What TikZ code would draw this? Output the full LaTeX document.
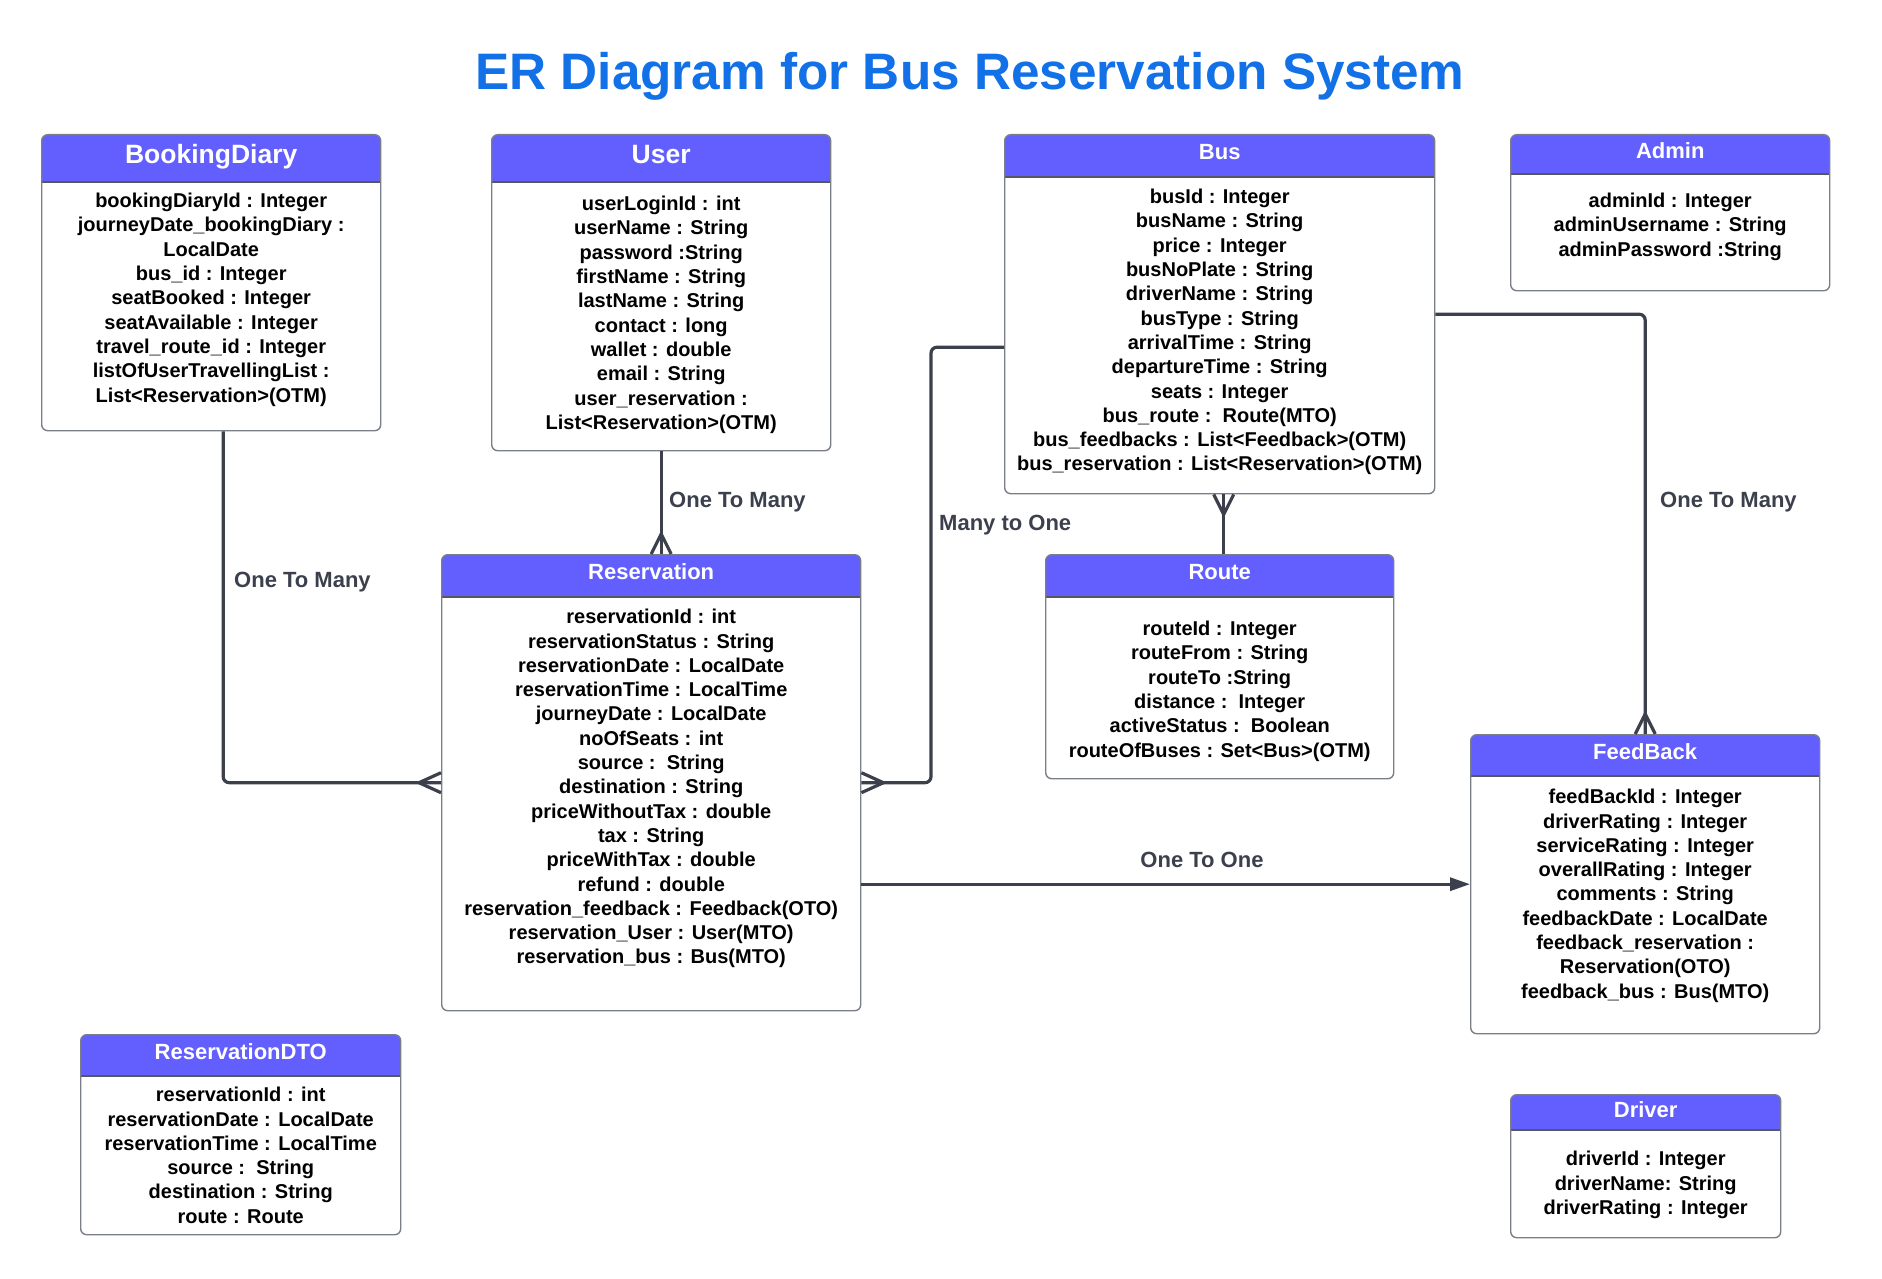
\documentclass[tikz,border=0pt]{standalone}
\usepackage{fontspec}
\setmainfont{Liberation Sans}
\usepackage{xcolor}
\usepackage{tikz}
\usetikzlibrary{arrows.meta, positioning}
\definecolor{headcol}{RGB}{99,95,255}
\definecolor{titlecol}{RGB}{18,113,230}
\definecolor{linkcol}{RGB}{59,64,76}
\definecolor{edgecol}{RGB}{122,126,136}

\begin{document}
\begin{tikzpicture}[
  x=1pt, y=-1pt,
  entity/.style={draw=edgecol, line width=1.4pt, fill=white, rounded corners=6pt,
                 anchor=north west, inner sep=0pt,
                 path picture={\fill[headcol, sharp corners]
                   (path picture bounding box.north west)
                   rectangle ([yshift=-#1]path picture bounding box.north east);
                   \draw[edgecol!70!black, line width=1.6pt, sharp corners]
                   ([yshift=-#1]path picture bounding box.north west)
                   -- ([yshift=-#1]path picture bounding box.north east);}},
  head/.style={text=white, anchor=base, inner sep=0pt,
               font=\fontsize{22}{26}\selectfont\bfseries},
  bighead/.style={head, font=\fontsize{26.5}{30}\selectfont\bfseries},
  attr/.style={anchor=north, align=center, inner sep=0pt,
               font=\fontsize{20}{24.3}\selectfont\bfseries},
  link/.style={draw=linkcol, line width=3.2pt, rounded corners=6pt},
  crow/.style={draw=linkcol, line width=3.2pt, line join=miter},
  lbl/.style={text=linkcol, inner sep=0pt, font=\fontsize{22}{26}\selectfont\bfseries}
]
  \fill[white] (0,0) rectangle (1882,1279);
  \useasboundingbox (0,0) rectangle (1882,1279);

  \node[anchor=base, text=titlecol, font=\fontsize{51.3}{60}\selectfont\bfseries]
    (title) at (970,90) {ER Diagram for Bus Reservation System};

  \node[entity=47pt, minimum width=339pt, minimum height=296pt] (diary) at (41,134) {};
  \node[bighead] (diaryT) at ([yshift=-29.5pt]diary.north) {BookingDiary};
  \node[attr] (diaryA) at ([yshift=-59pt]diary.north)
    {bookingDiaryId : Integer\\ journeyDate\_bookingDiary :\\ LocalDate\\
     bus\_id : Integer\\ seatBooked : Integer\\ seatAvailable : Integer\\
     travel\_route\_id : Integer\\ listOfUserTravellingList :\\
     List<Reservation>(OTM)};

  \node[entity=47pt, minimum width=339pt, minimum height=316pt] (user) at (491,134) {};
  \node[bighead] (userT) at ([yshift=-29.5pt]user.north) {User};
  \node[attr] (userA) at ([yshift=-62pt]user.north)
    {userLoginId : int\\ userName : String\\ password :String\\
     firstName : String\\ lastName : String\\ contact : long\\
     wallet : double\\ email : String\\ user\_reservation :\\
     List<Reservation>(OTM)};

  \node[entity=42pt, minimum width=430pt, minimum height=359pt] (bus) at (1004,134) {};
  \node[head] (busT) at ([yshift=-26pt]bus.north) {Bus};
  \node[attr] (busA) at ([yshift=-55pt]bus.north)
    {busId : Integer\\ busName : String\\ price : Integer\\
     busNoPlate : String\\ driverName : String\\ busType : String\\
     arrivalTime : String\\ departureTime : String\\ seats : Integer\\
     bus\_route :\ \ Route(MTO)\\ bus\_feedbacks : List<Feedback>(OTM)\\
     bus\_reservation : List<Reservation>(OTM)};

  \node[entity=39pt, minimum width=319pt, minimum height=156pt] (admin) at (1510,134) {};
  \node[head] (adminT) at ([yshift=-24.5pt]admin.north) {Admin};
  \node[attr] (adminA) at ([yshift=-59pt]admin.north)
    {adminId : Integer\\ adminUsername : String\\ adminPassword :String};

  \node[entity=42pt, minimum width=419pt, minimum height=456pt] (res) at (441,554) {};
  \node[head] (resT) at ([yshift=-25.5pt]res.north) {Reservation};
  \node[attr] (resA) at ([yshift=-55pt]res.north)
    {reservationId : int\\ reservationStatus : String\\
     reservationDate : LocalDate\\ reservationTime : LocalTime\\
     journeyDate : LocalDate\\ noOfSeats : int\\ source :\ \ String\\
     destination : String\\ priceWithoutTax : double\\ tax : String\\
     priceWithTax : double\\ refund : double\\
     reservation\_feedback : Feedback(OTO)\\
     reservation\_User : User(MTO)\\ reservation\_bus : Bus(MTO)};

  \node[entity=42pt, minimum width=348pt, minimum height=224pt] (route) at (1045,554) {};
  \node[head] (routeT) at ([yshift=-25.5pt]route.north) {Route};
  \node[attr] (routeA) at ([yshift=-67pt]route.north)
    {routeId : Integer\\ routeFrom : String\\ routeTo :String\\
     distance :\ \ Integer\\ activeStatus :\ \ Boolean\\
     routeOfBuses : Set<Bus>(OTM)};

  \node[entity=41pt, minimum width=349pt, minimum height=299pt] (fb) at (1470,734) {};
  \node[head] (fbT) at ([yshift=-25.5pt]fb.north) {FeedBack};
  \node[attr] (fbA) at ([yshift=-55pt]fb.north)
    {feedBackId : Integer\\ driverRating : Integer\\ serviceRating : Integer\\
     overallRating : Integer\\ comments : String\\
     feedbackDate : LocalDate\\ feedback\_reservation :\\
     Reservation(OTO)\\ feedback\_bus : Bus(MTO)};

  \node[entity=41pt, minimum width=320pt, minimum height=200pt] (dto) at (80,1034) {};
  \node[head] (dtoT) at ([yshift=-25.5pt]dto.north) {ReservationDTO};
  \node[attr] (dtoA) at ([yshift=-53pt]dto.north)
    {reservationId : int\\ reservationDate : LocalDate\\
     reservationTime : LocalTime\\ source :\ \ String\\
     destination : String\\ route : Route};

  \node[entity=35pt, minimum width=270pt, minimum height=143pt] (driver) at (1510,1094) {};
  \node[head] (driverT) at ([yshift=-23.5pt]driver.north) {Driver};
  \node[attr] (driverA) at ([yshift=-57pt]driver.north)
    {driverId : Integer\\ driverName: String\\ driverRating : Integer};

  \coordinate (userfoot) at (user.south |- res.north);
  \coordinate (busfoot) at ([xshift=4pt]bus.south);

  \draw[link] ([xshift=12pt]diary.south) |- (res.west);
  \draw[crow] ([yshift=10pt]res.west) -- ([xshift=-22pt]res.west) -- ([yshift=-10pt]res.west);
  \node[lbl, anchor=base west] (diaryL) at (234,587) {One To Many};

  \draw[link] (user.south) -- (userfoot);
  \draw[crow] ([xshift=-10pt]userfoot) -- ([yshift=20pt]userfoot) -- ([xshift=10pt]userfoot);
  \node[lbl, anchor=base west] (userL) at (669,507) {One To Many};

  \draw[link] ([yshift=-33pt]bus.west) -- ++(-73pt,0) |- (res.east);
  \draw[crow] ([yshift=10pt]res.east) -- ([xshift=22pt]res.east) -- ([yshift=-10pt]res.east);
  \node[lbl, anchor=base west] (busL) at (939,530) {Many to One};

  \draw[link] (busfoot |- route.north) -- (busfoot);
  \draw[crow] ([xshift=-10pt]busfoot) -- ([yshift=-20pt]busfoot) -- ([xshift=10pt]busfoot);

  \draw[link] (bus.east) -| (fb.north);
  \draw[crow] ([xshift=-10pt]fb.north) -- ([yshift=20pt]fb.north) -- ([xshift=10pt]fb.north);
  \node[lbl, anchor=base west] (fbL) at (1660,507) {One To Many};

  \draw[link, -{Triangle[length=20pt, width=13pt]}] (fb.west -| res.east) -- (fb.west);
  \node[lbl, anchor=base] (resL) at (1202,867) {One To One};
\end{tikzpicture}
\end{document}
